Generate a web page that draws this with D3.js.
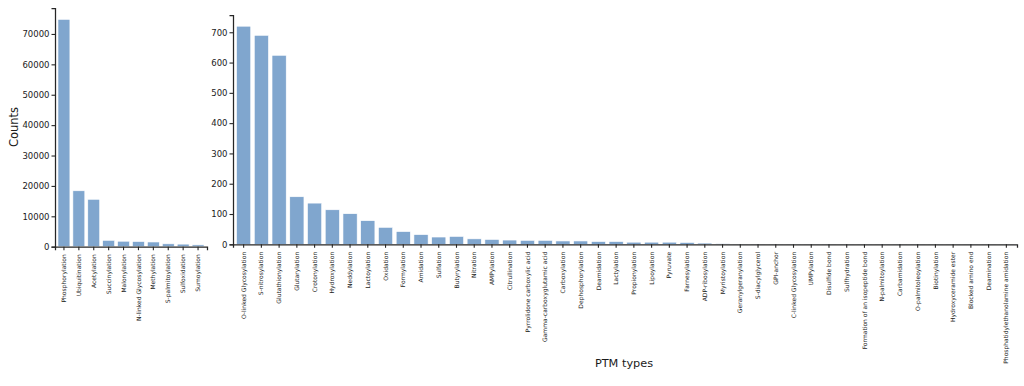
<!DOCTYPE html>
<html>
<head>
<meta charset="utf-8">
<script src="https://cdn.jsdelivr.net/npm/d3@7"></script>
<style>
  body { margin: 0; background: #fff; }
  text { font-family: "DejaVu Sans", sans-serif; fill: #1a1a1a; }
</style>
</head>
<body>
<svg id="chart" width="1024" height="386"></svg>
<script>
// major PTM types (left panel)
var majorTypes = ["Phosphorylation", "Ubiquitination", "Acetylation", "Succinylation", "Malonylation",
    "N-linked Glycosylation", "Methylation", "S-palmitoylation", "Sulfoxidation", "Sumoylation"];
var majorCounts = [74800, 18400, 15600, 2100, 1800, 1700, 1550, 950, 850, 600];
var majorTicks = [0, 10000, 20000, 30000, 40000, 50000, 60000, 70000];

// minor PTM types (right panel)
var minorTypes = ["O-linked Glycosylation", "S-nitrosylation", "Glutathionylation", "Glutarylation",
    "Crotonylation", "Hydroxylation", "Neddylation", "Lactoylation", "Oxidation", "Formylation",
    "Amidation", "Sulfation", "Butyrylation", "Nitration", "AMPylation", "Citrullination",
    "Pyrrolidone carboxylic acid", "Gamma-carboxyglutamic acid", "Carboxylation", "Dephosphorylation",
    "Deamidation", "Lactylation", "Propionylation", "Lipoylation", "Pyruvate", "Farnesylation",
    "ADP-ribosylation", "Myristoylation", "Geranylgeranylation", "S-diacylglycerol", "GPI-anchor",
    "C-linked Glycosylation", "UMPylation", "Disulfide bond", "Sulfhydration",
    "Formation of an isopeptide bond", "N-palmitoylation", "Carbamidation", "O-palmitoleoylation",
    "Biotinylation", "Hydroxyceramide ester", "Blocked amino end", "Deamination",
    "Phosphatidylethanolamine amidation"];
var minorCounts = [720, 690, 624, 157, 136, 114, 101, 78, 56, 42,
    32, 24, 26, 18, 16, 14, 13, 13, 11, 11,
    9, 9, 7, 7, 7, 6, 4, 2, 1, 1, 1,
    1, 1, 1, 1, 1, 1, 1, 1, 1, 1, 1, 1, 1];
var minorTicks = [0, 100, 200, 300, 400, 500, 600, 700];

var barColor = "#80a6ce";
var ink = "#262626";
var svg = d3.select("#chart");

// draws one bar panel into a group
function panel(sel, cats, vals, ticks, box) {
    var x = d3.scaleBand().domain(cats).range([box.left, box.right]).padding(0.2);
    var y = d3.scaleLinear().domain([0, box.ymax]).range([box.bottom, box.top]);

    sel.selectAll("rect.bar").data(cats).enter().append("rect")
        .classed("bar", true)
        .attr("x", d => x(d)).attr("width", x.bandwidth())
        .attr("y", (d, i) => y(vals[i]))
        .attr("height", (d, i) => box.bottom - y(vals[i]))
        .attr("fill", barColor).attr("stroke", "#fff").attr("stroke-width", 0.6);

    var xAxis = sel.append("g").attr("transform", "translate(0," + box.bottom + ")")
        .call(d3.axisBottom(x).tickSizeOuter(0).tickSize(3.5).tickPadding(2.5));
    xAxis.selectAll("text")
        .attr("transform", "rotate(-90)")
        .attr("text-anchor", "end")
        .attr("x", -7.5).attr("y", 0).attr("dy", "0.35em")
        .style("font-size", "6px");

    var yAxis = sel.append("g").attr("transform", "translate(" + box.left + ",0)")
        .call(d3.axisLeft(y).tickValues(ticks).tickFormat(d3.format("d"))
            .tickSizeOuter(0).tickSize(3.5).tickPadding(2));
    yAxis.selectAll("text").style("font-size", "8.5px");

    sel.selectAll(".domain").attr("stroke", ink).attr("stroke-width", 1.25);
    sel.selectAll(".tick line").attr("stroke", ink).attr("stroke-width", 1.1);
}

svg.append("g").call(panel, majorTypes, majorCounts, majorTicks,
    { left: 55, right: 207, top: 8, bottom: 246.7, ymax: 78540 });

svg.append("g").call(panel, minorTypes, minorCounts, minorTicks,
    { left: 233, right: 1017, top: 15, bottom: 244.3, ymax: 757 });

// axis titles
svg.append("text")
    .attr("transform", "translate(18,127) rotate(-90)")
    .attr("text-anchor", "middle")
    .style("font-size", "11.5px")
    .text("Counts");

svg.append("text")
    .attr("x", 624).attr("y", 367)
    .attr("text-anchor", "middle")
    .style("font-size", "11.3px")
    .text("PTM types");
</script>
</body>
</html>
